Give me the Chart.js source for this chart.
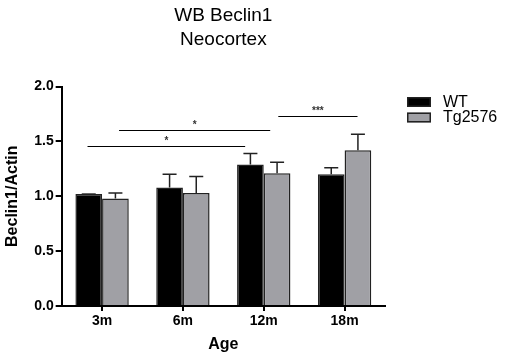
<!DOCTYPE html>
<html>
<head>
<meta charset="utf-8">
<script src="https://cdn.jsdelivr.net/npm/chart.js@4"></script>
<style>
  html, body { margin: 0; padding: 0; background: #fff; }
  #wrap { width: 505px; height: 355px; }
</style>
</head>
<body>
<div id="wrap"><canvas id="myChart"></canvas></div>
<script>
var ages = ["3m", "6m", "12m", "18m"];
var wtValues = [1.02, 1.08, 1.29, 1.20];
var wtErrors = [1.02, 1.20, 1.39, 1.26];   // top of error bar
var tgValues = [0.98, 1.03, 1.21, 1.42];
var tgErrors = [1.03, 1.18, 1.31, 1.565];
var yTicks = [0, 0.5, 1.0, 1.5, 2.0];

// significance brackets: start / end on the category axis (index units), height, label
var sigFrom = [-0.18, 0.21, 2.18];
var sigTo = [1.77, 2.08, 3.16];
var sigLevel = [1.457, 1.605, 1.73];
var sigLabel = ["*", "*", "***"];

Chart.defaults.font.family = "'Liberation Sans', Arial, sans-serif";
Chart.defaults.color = "#000";

var errorBars = {
  id: "errorBars",
  afterDatasetsDraw: function (chart) {
    var ctx = chart.ctx;
    var y = chart.scales.y;
    var tops = [wtErrors, tgErrors];
    ctx.save();
    ctx.strokeStyle = "#222";
    ctx.lineWidth = 1.5;
    chart.data.datasets.forEach(function (ds, i) {
      chart.getDatasetMeta(i).data.forEach(function (bar, j) {
        var yt = y.getPixelForValue(tops[i][j]);
        ctx.beginPath();
        ctx.moveTo(bar.x, bar.y);
        ctx.lineTo(bar.x, yt);
        ctx.moveTo(bar.x - 7, yt);
        ctx.lineTo(bar.x + 7, yt);
        ctx.stroke();
      });
    });
    ctx.restore();
  }
};

var sigLines = {
  id: "sigLines",
  afterDatasetsDraw: function (chart) {
    var ctx = chart.ctx;
    var x = chart.scales.x, y = chart.scales.y;
    ctx.save();
    ctx.strokeStyle = "#000";
    ctx.fillStyle = "#333";
    ctx.lineWidth = 1;
    ctx.font = "bold 10px 'Liberation Sans', Arial";
    ctx.textAlign = "center";
    ctx.textBaseline = "alphabetic";
    for (var i = 0; i < sigFrom.length; i++) {
      var x1 = x.getPixelForValue(sigFrom[i]);
      var x2 = x.getPixelForValue(sigTo[i]);
      var yy = Math.round(y.getPixelForValue(sigLevel[i])) + 0.5;
      ctx.beginPath();
      ctx.moveTo(x1, yy);
      ctx.lineTo(x2, yy);
      ctx.stroke();
      ctx.fillText(sigLabel[i], (x1 + x2) / 2, yy - 3);
    }
    ctx.restore();
  }
};

var sideLegend = {
  id: "sideLegend",
  afterDraw: function (chart) {
    var ctx = chart.ctx;
    ctx.save();
    ctx.font = "16px 'Liberation Sans', Arial";
    ctx.textBaseline = "middle";
    ctx.textAlign = "left";
    chart.data.datasets.forEach(function (ds, i) {
      var top = 97 + i * 15.5;
      ctx.fillStyle = ds.backgroundColor;
      ctx.fillRect(407, top, 24, 10);
      ctx.strokeStyle = "#222";
      ctx.lineWidth = 1.5;
      ctx.strokeRect(407.75, top + 0.75, 22.5, 8.5);
      ctx.fillStyle = "#000";
      ctx.fillText(ds.label, 443, top + 5.5);
    });
    ctx.restore();
  }
};

new Chart("myChart", {
  type: "bar",
  data: {
    labels: ages,
    datasets: [{
      label: "WT",
      data: wtValues,
      backgroundColor: "#000",
      borderColor: "#222",
      borderWidth: 1.5
    }, {
      label: "Tg2576",
      data: tgValues,
      backgroundColor: "#a0a0a5",
      borderColor: "#222",
      borderWidth: 1.5
    }]
  },
  options: {
    responsive: true,
    maintainAspectRatio: false,
    animation: false,
    categoryPercentage: 0.66,
    barPercentage: 1.0,
    layout: { padding: { right: 120 } },
    plugins: {
      legend: { display: false },
      tooltip: { enabled: false },
      title: {
        display: true,
        fullSize: false,
        text: ["WB Beclin1", "Neocortex"],
        font: { size: 19, weight: "normal", lineHeight: 1.25 },
        color: "#000",
        padding: { top: 4, bottom: 35 }
      }
    },
    scales: {
      x: {
        grid: { display: true, drawOnChartArea: false, offset: false, tickLength: 5, color: "#000", lineWidth: 2 },
        border: { display: true, color: "#000", width: 2 },
        ticks: { font: { size: 14, weight: "bold" }, padding: 2, color: "#000" },
        title: { display: true, text: "Age", font: { size: 16, weight: "bold" }, padding: { top: 3, bottom: 1 }, color: "#000" }
      },
      y: {
        min: 0,
        max: 2,
        afterBuildTicks: function (axis) {
          axis.ticks = yTicks.map(function (v) { return { value: v }; });
        },
        grid: { display: true, drawOnChartArea: false, tickLength: 6, color: "#000", lineWidth: 2 },
        border: { display: true, color: "#000", width: 2 },
        ticks: {
          font: { size: 14, weight: "bold" },
          padding: 2,
          color: "#000",
          callback: function (v) { return Number(v).toFixed(1); }
        },
        title: { display: true, text: "Beclin1/Actin", font: { size: 16, weight: "bold" }, padding: { top: 3, bottom: 10 }, color: "#000" }
      }
    }
  },
  plugins: [errorBars, sigLines, sideLegend]
});
</script>
</body>
</html>
